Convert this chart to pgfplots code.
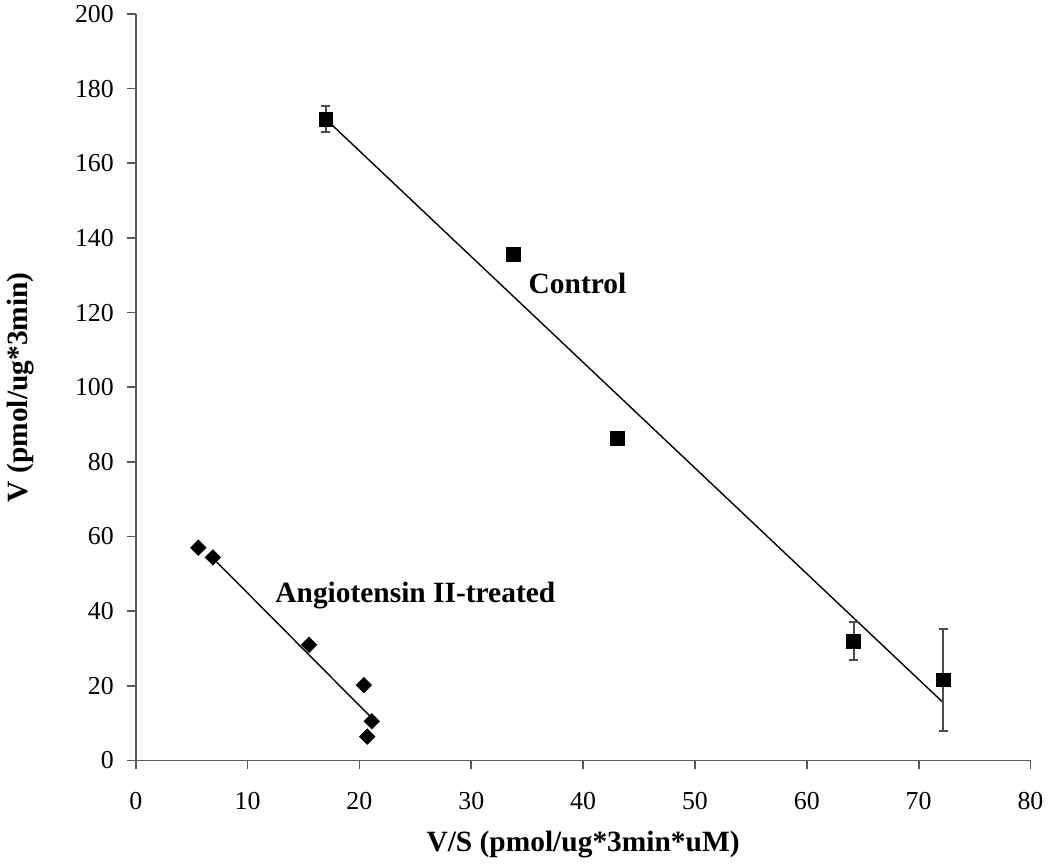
\documentclass[border=0pt]{standalone}
\usepackage{pgfplots}
\pgfplotsset{compat=1.18}
\usepackage{fontspec}
\setmainfont{Liberation Serif}
\begin{document}
\begin{tikzpicture}
\begin{axis}[
  scale only axis,
  width=450pt, height=375.5pt,
  xmin=0, xmax=80, ymin=0, ymax=200,
  xtick={0,10,...,80}, ytick={0,20,...,200},
  axis x line=bottom, axis y line=left,
  x axis line style={-}, y axis line style={-},
  axis line style={draw=black!65, line width=0.9pt},
  tick style={draw=black!65, line width=0.9pt},
  tick align=outside, major tick length=4.5pt,
  /pgf/number format/assume math mode=true,
  ticklabel style={font=\fontsize{13}{15}\selectfont},
  xticklabel style={yshift=-8pt},
  yticklabel style={xshift=-3pt},
  xlabel={\textbf{V/S (pmol/ug*3min*uM)}},
  ylabel={\textbf{V (pmol/ug*3min)}},
  label style={font=\fontsize{14.8}{16}\selectfont},
  xlabel style={yshift=-4pt},
  ylabel style={yshift=14pt},
  clip=false,
]
% Control fit line
\addplot[black, line width=0.7pt, no marks] coordinates {(17.0,171.8) (72.2,15.5)};
% Angiotensin fit line
\addplot[black, line width=0.7pt, no marks] coordinates {(7.1,53.6) (20.9,12.0)};
% Control data
\addplot[only marks, mark=square*, mark size=3.5pt, black,
  error bars/.cd, y dir=both, y explicit,
  error bar style={black!70, line width=0.9pt},
  error mark options={rotate=90, mark size=2.3pt, black!70, line width=0.9pt}]
  coordinates {
  (17.0,171.8) +- (0,3.5)
  (33.8,135.6) +- (0,0)
  (43.1,86.3) +- (0,0)
  (64.2,32.0) +- (0,5.0)
  (72.2,21.6) +- (0,13.6)
  };
% Angiotensin II-treated data
\addplot[only marks, mark=square*, mark options={rotate=45}, mark size=2.7pt, black] coordinates {
  (5.6,57.0) (6.9,54.4) (15.5,31.0) (20.4,20.2) (21.1,10.5) (20.7,6.4)
};
\node[font=\fontsize{14.8}{16}\selectfont\bfseries, anchor=center] at (axis cs:39.5,127.8) {Control};
\node[font=\fontsize{14.8}{16}\selectfont\bfseries, anchor=center] at (axis cs:25.0,44.2) {Angiotensin II-treated};
\end{axis}
\pgfresetboundingbox
\path[use as bounding box] (current axis.outer south west) rectangle ([yshift=7pt]current axis.north -| current axis.outer east);
\end{tikzpicture}
\end{document}
